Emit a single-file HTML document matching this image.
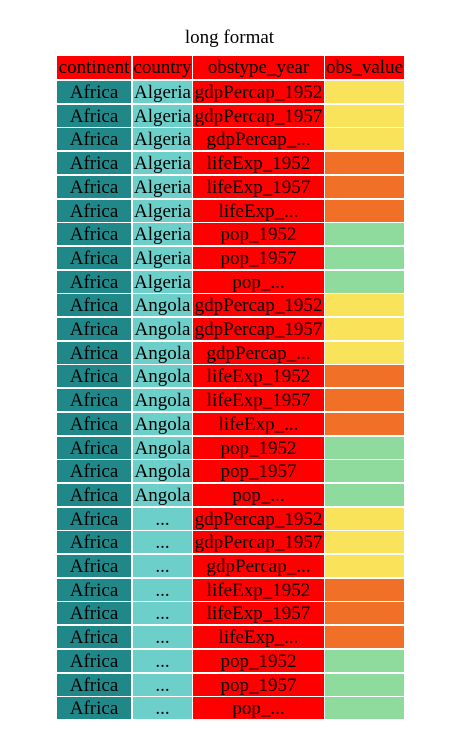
<!DOCTYPE html>
<html><head><meta charset="utf-8"><style>
body{margin:0;width:459px;height:741px;background:#fff;position:relative;overflow:hidden;font-family:"Liberation Serif",serif;}
.c{position:absolute;font-size:19px;line-height:24px;text-align:center;white-space:nowrap;overflow:visible;color:#000;}
#title{position:absolute;left:0;width:459px;top:27px;text-align:center;font-size:19px;}
</style></head><body>
<div id="title">long format</div>
<div id="tbl"></div>
<script>
const headers=["continent","country","obstype_year","obs_value"];
const countries=["Algeria","Angola","..."];
const obstypes=["gdpPercap_1952","gdpPercap_1957","gdpPercap_...","lifeExp_1952","lifeExp_1957","lifeExp_...","pop_1952","pop_1957","pop_..."];
const valueColors={gdpPercap:"#f8e35a",lifeExp:"#f07028",pop:"#8fdb9e"};
const colX=[57,133,193,325],colW=[74,59,131,79];
const tbl=document.getElementById('tbl');
function cell(x,y,w,h,bg,txt,name){
  const d=document.createElement('div');d.className='c';
  d.style.left=x+'px';d.style.top=y+'px';d.style.width=w+'px';d.style.height=h+'px';d.style.background=bg;d.textContent=txt;
  
  
  tbl.appendChild(d);
}
headers.forEach((h,i)=>cell(colX[i],56,colW[i],23,"#ff0000",h,'header-'+h.replace('_','-')));
let r=0;
countries.forEach(c=>{obstypes.forEach(o=>{
  const y=Math.round(81+r*23.7);
  const key=o.split('_')[0];
  cell(colX[0],y,colW[0],22,"#21888a","Africa",'continent-cell');
  cell(colX[1],y,colW[1],22,"#6dcfca",c,'country-cell');
  cell(colX[2],y,colW[2],22,"#ff0000",o,'obstype-cell');
  cell(colX[3],y,colW[3],22,valueColors[key],"",'obs-value-cell');
  r++;
});});
</script>
</body></html>
